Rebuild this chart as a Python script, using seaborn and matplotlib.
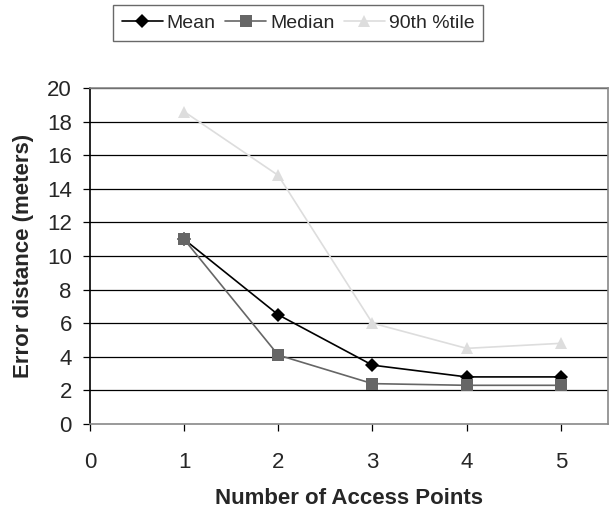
import pandas as pd
import matplotlib.pyplot as plt
import seaborn as sns

# data
access_points = [1, 2, 3, 4, 5]
mean_err = [11.0, 6.5, 3.5, 2.8, 2.8]
median_err = [11.0, 4.1, 2.4, 2.3, 2.3]
p90_err = [18.6, 14.8, 6.0, 4.5, 4.8]

sns.set_style("white")
plt.rcParams['font.family'] = ['Liberation Sans', 'DejaVu Sans']

df = pd.DataFrame({
    "ap": access_points * 3,
    "err": mean_err + median_err + p90_err,
    "serie": ["Mean"] * 5 + ["Median"] * 5 + ["90th %tile"] * 5,
})

fig = plt.figure(figsize=(6.11, 5.12), dpi=100)
ax = fig.add_axes([0.147, 0.172, 0.848, 0.656])

colores = {"Mean": "black", "Median": "#666666", "90th %tile": "#dddddd"}
marcadores = {"Mean": "D", "Median": "s", "90th %tile": "^"}
tam = {"Mean": 7, "Median": 9, "90th %tile": 9}

for s in ["Mean", "Median", "90th %tile"]:
    sub = df[df["serie"] == s]
    sns.lineplot(data=sub, x="ap", y="err", color=colores[s], marker=marcadores[s],
                 markersize=tam[s], markeredgewidth=0, linewidth=1.2, label=s, ax=ax)

ax.set_xlim(0, 5.5)
ax.set_ylim(0, 20)
ax.set_xticks(range(0, 6))
ax.set_yticks(range(0, 21, 2))
for yy in range(2, 21, 2):
    ax.axhline(yy, color="black", linewidth=0.9, zorder=0)

ax.tick_params(axis="both", direction="out", length=5, width=0.9, labelsize=16,
               left=True, bottom=True, color="black")
ax.tick_params(axis="x", pad=15)
ax.tick_params(axis="y", pad=8)

for side in ["top", "right", "bottom"]:
    ax.spines[side].set_color("#888888")
    ax.spines[side].set_linewidth(1.2)
ax.spines["left"].set_color("black")
ax.spines["left"].set_linewidth(1.2)

ax.set_xlabel("Number of Access Points", fontsize=16, weight="bold", labelpad=11)
ax.set_ylabel("Error distance (meters)", fontsize=16, weight="bold", labelpad=9)

leg = ax.legend(loc="upper center", bbox_to_anchor=(0.402, 1.275), ncol=3, fontsize=14,
                frameon=True, fancybox=False, edgecolor="#444444", handlelength=2.1,
                handletextpad=0.2, columnspacing=0.5, borderpad=0.45)
leg.get_frame().set_linewidth(1.0)

plt.savefig("out.png", dpi=100)
